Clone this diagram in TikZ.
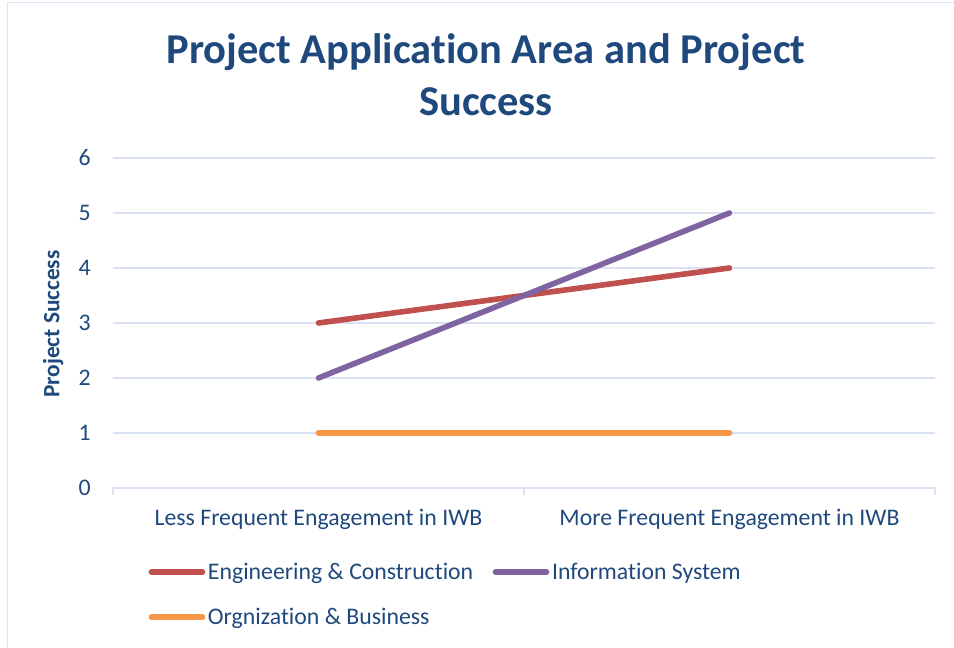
\documentclass[tikz,border=0pt]{standalone}
\usepackage{fontspec}
\setmainfont{Carlito}[Ligatures={NoCommon,NoRare,NoContextual}, Contextuals=NoAlternate]
\usepackage{tikz}
\definecolor{txtblue}{HTML}{1F497D}
\definecolor{gridblue}{HTML}{D9E1F2}
\definecolor{engcon}{HTML}{C0504D}
\definecolor{infsys}{HTML}{8064A2}
\definecolor{orgbus}{HTML}{F79646}

\begin{document}
\begin{tikzpicture}[
    lbl/.style={text=txtblue, inner sep=0pt, font=\fontsize{12.3}{14.8}\selectfont},
    series/.style={line width=2.9pt, line cap=round}
  ]
    \useasboundingbox (-2.0545cm,-2.9091cm) rectangle (15.2909cm,8.8727cm);
    \draw[gridblue, line width=0.8pt] (-1.918cm,-2.95cm) -- (-1.918cm,8.827cm) -- (15.3cm,8.827cm);  %Rahmen
    \node[text=txtblue, anchor=base, font=\fontsize{22}{27}\selectfont\bfseries] (titleA) at (6.782cm,7.71cm) {Project Application Area and Project};
    \node[text=txtblue, anchor=base, font=\fontsize{22}{27}\selectfont\bfseries] (titleB) at (6.782cm,6.77cm) {Success};
    \foreach \y in {1,...,6}  %Hilfslinien
    {
      \draw[gridblue, line width=0.9pt] (0cm,\y cm) -- (14.945cm,\y cm);
    };
    \foreach \y in {0,...,6}  %Beschriftung
    {
      \node[lbl, anchor=east] (ytick\y) at (-0.4cm,\y cm) {\y};
    };
    \draw[gridblue, line width=0.9pt] (0cm,-0.127cm) -- (0cm,0cm) -- (14.945cm,0cm) -- (14.945cm,-0.127cm);  %Abzisse
    \draw[gridblue, line width=0.9pt] (7.473cm,0cm) -- (7.473cm,-0.127cm);  %mittlerer Strich
    \node[lbl, anchor=base] (catless) at (3.736cm,-0.691cm) {Less Frequent Engagement in IWB};
    \node[lbl, anchor=base] (catmore) at (11.209cm,-0.691cm) {More Frequent Engagement in IWB};
    \node[lbl, anchor=base, rotate=90, font=\fontsize{12.1}{14.5}\selectfont\bfseries] (ytitle) at (-0.973cm,2.98cm) {Project Success};
    \foreach \name/\a/\b in
    {
      engcon/3/4,
      infsys/2/5,
      orgbus/1/1%
    }
    {
      \coordinate (\name-less) at (3.736cm,\a cm);
      \coordinate (\name-more) at (11.209cm,\b cm);
      \draw[series, \name] (\name-less) -- (\name-more);
    };
    \foreach \name/\x/\y/\clr in
    {
      Engineering \& Construction/0.70/-1.527/engcon,
      Information System/6.955/-1.527/infsys,
      Orgnization \& Business/0.70/-2.345/orgbus%
    }
    {
      \coordinate (leg-\clr-a) at (\x cm,\y cm);
      \coordinate (leg-\clr-b) at (\x cm+0.927cm,\y cm);
      \draw[series, \clr] (leg-\clr-a) -- (leg-\clr-b);
      \node[lbl, anchor=base west] (legtxt-\clr) at (\x cm+1.02cm,\y cm-0.128cm) {\name};
    };
  \end{tikzpicture}
\end{document}
